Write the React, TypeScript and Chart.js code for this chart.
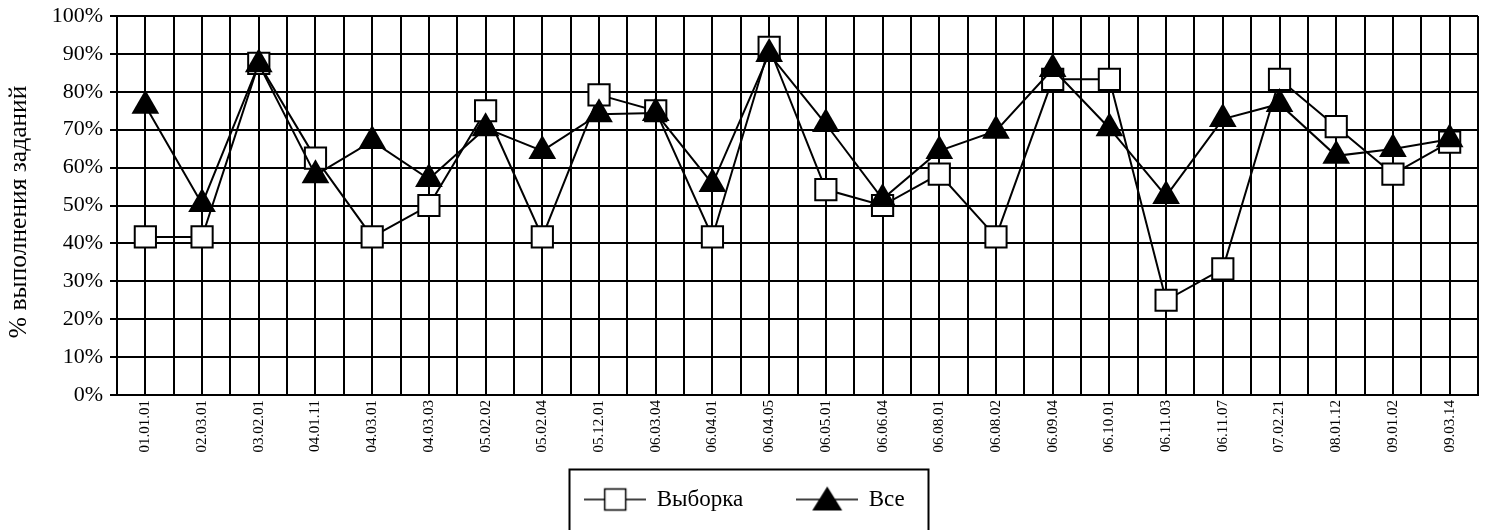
import React, { useEffect, useRef } from "react";
import { Chart, registerables } from "chart.js";

Chart.register(...registerables);

const categories = [
  "01.01.01", "02.03.01", "03.02.01", "04.01.11", "04.03.01", "04.03.03",
  "05.02.02", "05.02.04", "05.12.01", "06.03.04", "06.04.01", "06.04.05",
  "06.05.01", "06.06.04", "06.08.01", "06.08.02", "06.09.04", "06.10.01",
  "06.11.03", "06.11.07", "07.02.21", "08.01.12", "09.01.02", "09.03.14",
];

const sampleValues = [
  41.7, 41.7, 87.5, 62.5, 41.7, 50, 75, 41.7, 79.2, 75, 41.7, 91.7,
  54.2, 50, 58.3, 41.7, 83.3, 83.3, 25, 33.3, 83.3, 70.8, 58.3, 66.7,
];

const allValues = [
  76.3, 50.4, 87.3, 58, 67, 57, 70.4, 64.4, 74.1, 74.4, 55.7, 90,
  71.5, 51.7, 64.4, 69.7, 86, 70.4, 52.5, 72.8, 76.8, 63.1, 64.9, 67.5,
];

const seriesNames = ["Выборка", "Все"];
const yAxisTitle = "% выполнения заданий";

const FONT = "'Liberation Serif', 'Times New Roman', serif";
const NBSP = "\u00A0";

function makeLegendIcon(kind: "square" | "triangle"): HTMLCanvasElement {
  const w = 62;
  const h = 28;
  const c = document.createElement("canvas");
  c.width = w;
  c.height = h;
  const ctx = c.getContext("2d")!;
  const cy = h / 2;
  ctx.strokeStyle = "#000";
  ctx.lineWidth = 1.5;
  ctx.beginPath();
  ctx.moveTo(0, cy);
  ctx.lineTo(w, cy);
  ctx.stroke();
  if (kind === "square") {
    ctx.fillStyle = "#fff";
    ctx.fillRect(w / 2 - 10.5, cy - 10.5, 21, 21);
    ctx.lineWidth = 1.5;
    ctx.strokeRect(w / 2 - 10.5, cy - 10.5, 21, 21);
  } else {
    ctx.fillStyle = "#000";
    ctx.beginPath();
    ctx.moveTo(w / 2, cy - 13);
    ctx.lineTo(w / 2 + 15, cy + 11);
    ctx.lineTo(w / 2 - 15, cy + 11);
    ctx.closePath();
    ctx.fill();
  }
  return c;
}

const centerGridPlugin = {
  id: "centerGrid",
  beforeDatasetsDraw(chart: any) {
    const { ctx, chartArea, scales } = chart;
    const x = scales.x;
    ctx.save();
    ctx.strokeStyle = "#000";
    ctx.lineWidth = 2;
    for (let i = 0; i < categories.length; i++) {
      const px = Math.round(x.getPixelForValue(i));
      ctx.beginPath();
      ctx.moveTo(px, chartArea.top);
      ctx.lineTo(px, chartArea.bottom);
      ctx.stroke();
    }
    ctx.restore();
  },
};

const legendBoxPlugin = {
  id: "legendBox",
  afterDraw(chart: any) {
    const lg = chart.legend;
    if (!lg || !lg.legendHitBoxes || !lg.legendHitBoxes.length) return;
    const hb = lg.legendHitBoxes;
    const first = hb[0];
    const last = hb[hb.length - 1];
    const left = Math.round(first.left - 16) + 0.5;
    const right = Math.round(last.left + last.width + 23) + 0.5;
    const cy = first.top + first.height / 2;
    const top = Math.round(cy - 31) + 0.5;
    const ctx = chart.ctx;
    ctx.save();
    ctx.strokeStyle = "#000";
    ctx.lineWidth = 2;
    ctx.strokeRect(left, top, right - left, 80);
    ctx.restore();
  },
};

export default function App() {
  const canvasRef = useRef<HTMLCanvasElement | null>(null);

  useEffect(() => {
    if (!canvasRef.current) return;
    const legendIcons = [makeLegendIcon("square"), makeLegendIcon("triangle")];
    const legendTexts = [seriesNames[0] + NBSP.repeat(4), seriesNames[1]];

    const chart = new Chart(canvasRef.current, {
      type: "line",
      data: {
        labels: categories,
        datasets: [
          {
            label: seriesNames[0],
            data: sampleValues,
            borderColor: "#000",
            borderWidth: 2,
            backgroundColor: "#fff",
            pointStyle: "rect",
            pointRadius: 15,
            pointHoverRadius: 15,
            pointBackgroundColor: "#fff",
            pointBorderColor: "#000",
            pointBorderWidth: 2,
            tension: 0,
            fill: false,
            order: 1,
          },
          {
            label: seriesNames[1],
            data: allValues,
            borderColor: "#000",
            borderWidth: 2,
            backgroundColor: "#000",
            pointStyle: "triangle",
            pointRadius: 16,
            pointHoverRadius: 16,
            pointBackgroundColor: "#000",
            pointBorderColor: "#000",
            pointBorderWidth: 0,
            tension: 0,
            fill: false,
            order: 0,
          },
        ],
      },
      options: {
        animation: false,
        responsive: true,
        maintainAspectRatio: false,
        layout: {
          autoPadding: false,
          padding: { top: 16, right: 11, left: 12, bottom: 9 },
        },
        plugins: {
          tooltip: { enabled: false },
          legend: {
            display: true,
            position: "bottom",
            labels: {
              usePointStyle: true,
              pointStyleWidth: 60,
              padding: 31,
              color: "#000",
              font: { family: FONT, size: 23 },
              sort: (a: any, b: any) => a.datasetIndex - b.datasetIndex,
              generateLabels: (ch: any) =>
                ch.data.datasets.map((ds: any, i: number) => ({
                  text: legendTexts[i],
                  pointStyle: legendIcons[i],
                  datasetIndex: i,
                  hidden: false,
                  fillStyle: "#fff",
                  strokeStyle: "#000",
                  lineWidth: 0,
                  fontColor: "#000",
                })),
            },
          },
        },
        scales: {
          x: {
            type: "category",
            offset: true,
            afterFit: (scale: any) => {
              scale.height = 62;
              scale.paddingLeft = 0;
              scale.paddingRight = 0;
            },
            grid: {
              offset: true,
              color: "#000",
              lineWidth: 2,
              drawTicks: false,
            },
            border: { color: "#000", width: 2 },
            ticks: {
              color: "#000",
              font: { family: FONT, size: 15 },
              minRotation: 90,
              maxRotation: 90,
              autoSkip: false,
              padding: 5,
            },
          },
          y: {
            min: 0,
            max: 100,
            afterFit: (scale: any) => {
              scale.width = 105;
              scale.paddingTop = 0;
              scale.paddingBottom = 0;
            },
            grid: {
              color: "#000",
              lineWidth: 2,
              drawTicks: true,
              tickLength: 7,
            },
            border: { color: "#000", width: 2 },
            ticks: {
              stepSize: 10,
              color: "#000",
              padding: 7,
              font: { family: FONT, size: 22 },
              callback: (v: any) => v + "%",
            },
            title: {
              display: true,
              text: yAxisTitle + NBSP.repeat(2),
              color: "#000",
              font: { family: FONT, size: 25.5 },
              padding: { top: -8, bottom: 0 },
            },
          },
        },
      },
      plugins: [centerGridPlugin, legendBoxPlugin],
    });

    return () => {
      chart.destroy();
    };
  }, []);

  return (
    <div
      style={{
        position: "fixed",
        left: 0,
        top: 0,
        width: "1489px",
        height: "530px",
        background: "#fff",
      }}
    >
      <canvas ref={canvasRef} />
    </div>
  );
}
